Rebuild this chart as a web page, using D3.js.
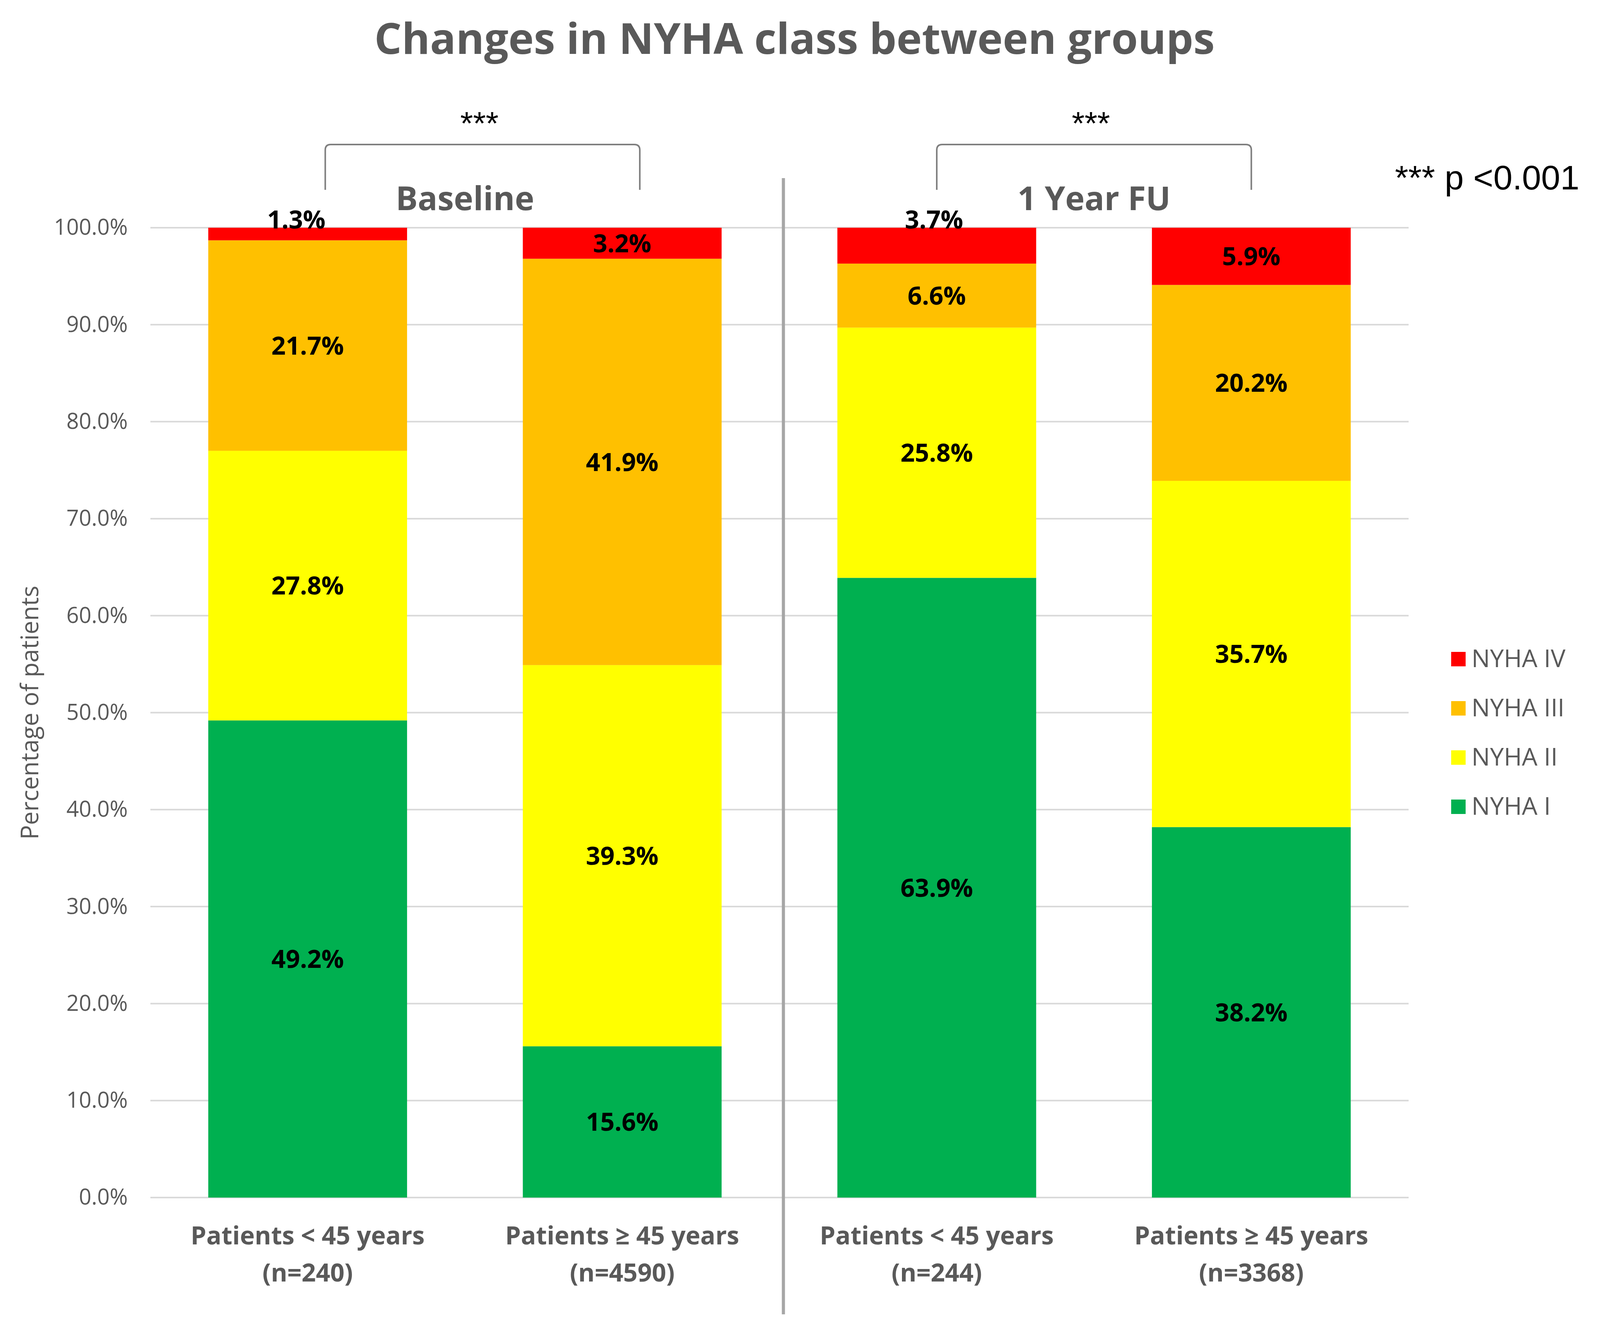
<!DOCTYPE html>
<html>
<head>
<meta charset="utf-8">
<script src="https://cdn.jsdelivr.net/npm/d3@7"></script>
<style>
  body { margin: 0; background: #fff; }
  text { font-family: "Open Sans", Roboto, sans-serif; }
</style>
</head>
<body>
<script>
// ---- data ----
var periods = ["Baseline", "1 Year FU"];
var ageGroups = ["Patients < 45 years", "Patients \u2265 45 years"];
var nPatients = [240, 4590, 244, 3368];
var classNames = ["NYHA I", "NYHA II", "NYHA III", "NYHA IV"];
var nyhaI   = [49.2, 15.6, 63.9, 38.2];
var nyhaII  = [27.8, 39.3, 25.8, 35.7];
var nyhaIII = [21.7, 41.9, 6.6, 20.2];
var nyhaIV  = [1.3, 3.2, 3.7, 5.9];
var yTicks = [0, 10, 20, 30, 40, 50, 60, 70, 80, 90, 100];
var colors = ["#00B050", "#FFFF00", "#FFC000", "#FF0000"];

var W = 4102, H = 3400;
var grey = "#595959";

// build rows for d3.stack
var rows = nPatients.map(function(n, i) {
  return {
    key: i,
    period: periods[Math.floor(i / 2)],
    age: ageGroups[i % 2],
    n: n,
    "NYHA I": nyhaI[i], "NYHA II": nyhaII[i], "NYHA III": nyhaIII[i], "NYHA IV": nyhaIV[i]
  };
});

var svg = d3.select("body").append("svg")
  .attr("width", W)
  .attr("height", H);

var x = d3.scaleBand()
  .domain(rows.map(function(d) { return d.key; }))
  .range([385, 3606])
  .paddingInner(0.368)
  .paddingOuter(0.184);

var y = d3.scaleLinear().domain([0, 100]).range([3066, 583]);

// gridlines
svg.append("g")
  .selectAll("line")
  .data(yTicks)
  .join("line")
  .attr("x1", x.range()[0])
  .attr("x2", x.range()[1])
  .attr("y1", function(d) { return y(d); })
  .attr("y2", function(d) { return y(d); })
  .attr("stroke", "#D9D9D9")
  .attr("stroke-width", 4);

// y axis (labels only)
var yAxis = svg.append("g")
  .attr("transform", "translate(" + x.range()[0] + ",0)")
  .call(d3.axisLeft(y).tickValues(yTicks).tickSize(0).tickPadding(58)
    .tickFormat(function(d) { return d3.format(".1f")(d) + "%"; }));
yAxis.select(".domain").remove();
yAxis.selectAll("text")
  .attr("fill", grey)
  .style("font-size", "56px")
  .style("font-family", "'Open Sans', sans-serif");

svg.append("text")
  .attr("transform", "translate(98," + y(50) + ") rotate(-90)")
  .attr("text-anchor", "middle")
  .attr("fill", grey)
  .style("font-size", "62px")
  .text("Percentage of patients");

// stacked bars
var series = d3.stack().keys(classNames)(rows);

var layer = svg.append("g")
  .selectAll("g")
  .data(series)
  .join("g")
  .attr("fill", function(d, i) { return colors[i]; });

layer.selectAll("rect")
  .data(function(d) { return d; })
  .join("rect")
  .attr("x", function(d) { return x(d.data.key); })
  .attr("width", x.bandwidth())
  .attr("y", function(d) { return y(d[1]); })
  .attr("height", function(d) { return y(d[0]) - y(d[1]); });

// value labels; the two thin top segments of the <45 bars sit on top of the bar
var aboveBar = { "3-0": -29, "3-2": -7 };
layer.each(function(s, si) {
  d3.select(this).selectAll("text")
    .data(s)
    .join("text")
    .attr("text-anchor", "middle")
    .attr("fill", "#000")
    .style("font-size", "64px")
    .style("font-weight", "bold")
    .attr("x", function(d) {
      var k = si + "-" + d.data.key;
      return x(d.data.key) + x.bandwidth() / 2 + (k in aboveBar ? aboveBar[k] : 0);
    })
    .attr("y", function(d) {
      var k = si + "-" + d.data.key;
      if (k in aboveBar) return y(d[1]) + 2;
      return (y(d[0]) + y(d[1])) / 2;
    })
    .attr("dy", function(d) { return (si + "-" + d.data.key) in aboveBar ? 0 : "0.36em"; })
    .text(function(d) { return d3.format(".1f")(d[1] - d[0]) + "%"; });
});

// x labels (two lines)
var xl = svg.append("g")
  .selectAll("text")
  .data(rows)
  .join("text")
  .attr("text-anchor", "middle")
  .attr("fill", grey)
  .style("font-size", "64px")
  .style("font-weight", "bold");
xl.append("tspan")
  .attr("x", function(d) { return x(d.key) + x.bandwidth() / 2; })
  .attr("y", 3186)
  .text(function(d) { return d.age; });
xl.append("tspan")
  .attr("x", function(d) { return x(d.key) + x.bandwidth() / 2; })
  .attr("y", 3281)
  .text(function(d) { return "(n=" + d.n + ")"; });

// separator between periods
var sepX = (x(1) + x.bandwidth() + x(2)) / 2 + 10;
svg.append("line")
  .attr("x1", sepX).attr("x2", sepX)
  .attr("y1", 456).attr("y2", 3365)
  .attr("stroke", "#A6A6A6")
  .attr("stroke-width", 8);

// period headers
periods.forEach(function(p, i) {
  var cx = (x(i * 2) + x(i * 2 + 1) + x.bandwidth()) / 2;
  svg.append("text")
    .attr("x", cx)
    .attr("y", 538)
    .attr("text-anchor", "middle")
    .attr("fill", grey)
    .style("font-size", "84px")
    .style("font-weight", "bold")
    .text(p);
});

// significance brackets
var brackets = [
  { a: 0, b: 1, shift: 45 },
  { a: 2, b: 3, shift: 0 }
];
var bTop = 370, bBottom = 486, r = 14;
brackets.forEach(function(b) {
  var x1 = x(b.a) + x.bandwidth() / 2 + b.shift;
  var x2 = x(b.b) + x.bandwidth() / 2 + b.shift;
  var path = d3.path();
  path.moveTo(x1, bBottom);
  path.lineTo(x1, bTop + r);
  path.quadraticCurveTo(x1, bTop, x1 + r, bTop);
  path.lineTo(x2 - r, bTop);
  path.quadraticCurveTo(x2, bTop, x2, bTop + r);
  path.lineTo(x2, bBottom);
  svg.append("path")
    .attr("d", path.toString())
    .attr("fill", "none")
    .attr("stroke", "#7F7F7F")
    .attr("stroke-width", 4);
  svg.append("text")
    .attr("x", (x1 + x2) / 2 - 8)
    .attr("y", 345)
    .attr("text-anchor", "middle")
    .attr("fill", "#000")
    .style("font-family", "'Liberation Sans', Arial, sans-serif")
    .style("font-size", "84px")
    .text("***");
});

svg.append("text")
  .attr("x", 3571)
  .attr("y", 485)
  .attr("fill", "#000")
  .style("font-family", "'Liberation Sans', Arial, sans-serif")
  .style("font-size", "88px")
  .text("*** p <0.001");

// title
svg.append("text")
  .attr("x", 2034)
  .attr("y", 138)
  .attr("text-anchor", "middle")
  .attr("fill", grey)
  .style("font-size", "110px")
  .style("font-weight", "bold")
  .text("Changes in NYHA class between groups");

// legend (NYHA IV on top)
var legendOrder = classNames.slice().reverse();
var legend = svg.append("g")
  .selectAll("g")
  .data(legendOrder)
  .join("g")
  .attr("transform", function(d, i) { return "translate(3715," + (1669 + i * 126) + ")"; });
legend.append("rect")
  .attr("width", 37)
  .attr("height", 37)
  .attr("fill", function(d) { return colors[classNames.indexOf(d)]; });
legend.append("text")
  .attr("x", 52)
  .attr("y", 39)
  .attr("fill", grey)
  .style("font-size", "63px")
  .text(function(d) { return d; });
</script>
</body>
</html>
